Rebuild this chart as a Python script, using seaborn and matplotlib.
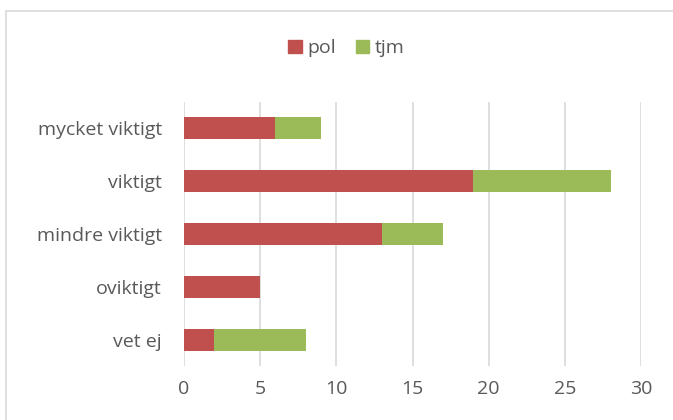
import matplotlib
matplotlib.use("Agg")
import matplotlib.pyplot as plt
import seaborn as sns
import pandas as pd
from matplotlib.patches import Patch, Rectangle

categories = ["mycket viktigt", "viktigt", "mindre viktigt", "oviktigt", "vet ej"]
pol = [6, 19, 13, 5, 2]
tjm = [3, 9, 4, 0, 6]
series_names = ["pol", "tjm"]
xticks = [0, 5, 10, 15, 20, 25, 30]

RED = "#C0504D"
GREEN = "#9BBB59"
TXT = "#595959"

sns.set_theme(style="white")
plt.rcParams["font.family"] = ["Open Sans", "DejaVu Sans"]

df = pd.DataFrame({"cat": categories, "pol": pol, "tjm": tjm})
df["total"] = df["pol"] + df["tjm"]

fig = plt.figure(figsize=(6.73, 4.2), dpi=100)
ax = fig.add_axes([0.2734, 0.1274, 0.9525 - 0.2734, 0.7583 - 0.1274])

sns.barplot(data=df, x="total", y="cat", color=GREEN, width=0.4, ax=ax,
            saturation=1, linewidth=0, orient="h")
sns.barplot(data=df, x="pol", y="cat", color=RED, width=0.4, ax=ax,
            saturation=1, linewidth=0, orient="h")

ax.set_xlim(0, 30)
ax.set_ylim(4.5, -0.5)
ax.set_xticks(xticks)
ax.set_xticklabels([str(t) for t in xticks])
ax.set_xlabel("")
ax.set_ylabel("")
ax.xaxis.grid(True, color="#D9D9D9", linewidth=1.2)
ax.set_axisbelow(True)
for s in ax.spines.values():
    s.set_visible(False)
ax.tick_params(axis="both", length=0, labelsize=14, colors=TXT)
ax.tick_params(axis="x", pad=10)
ax.tick_params(axis="y", pad=16)

handles = [Patch(color=RED, label="pol"), Patch(color=GREEN, label="tjm")]
fig.legend(handles=handles, loc="center", bbox_to_anchor=(0.515, 0.885), ncol=2,
           frameon=False, fontsize=14, handlelength=0.7, handleheight=0.7,
           handletextpad=0.3, columnspacing=1.0, labelcolor=TXT)

fig.patches.append(Rectangle((6 / 673, -0.01), 1.0, (420 - 11) / 420 + 0.01,
                             transform=fig.transFigure, fill=False,
                             edgecolor="#D9D9D9", linewidth=1.2))

fig.savefig("out.png", dpi=100)
